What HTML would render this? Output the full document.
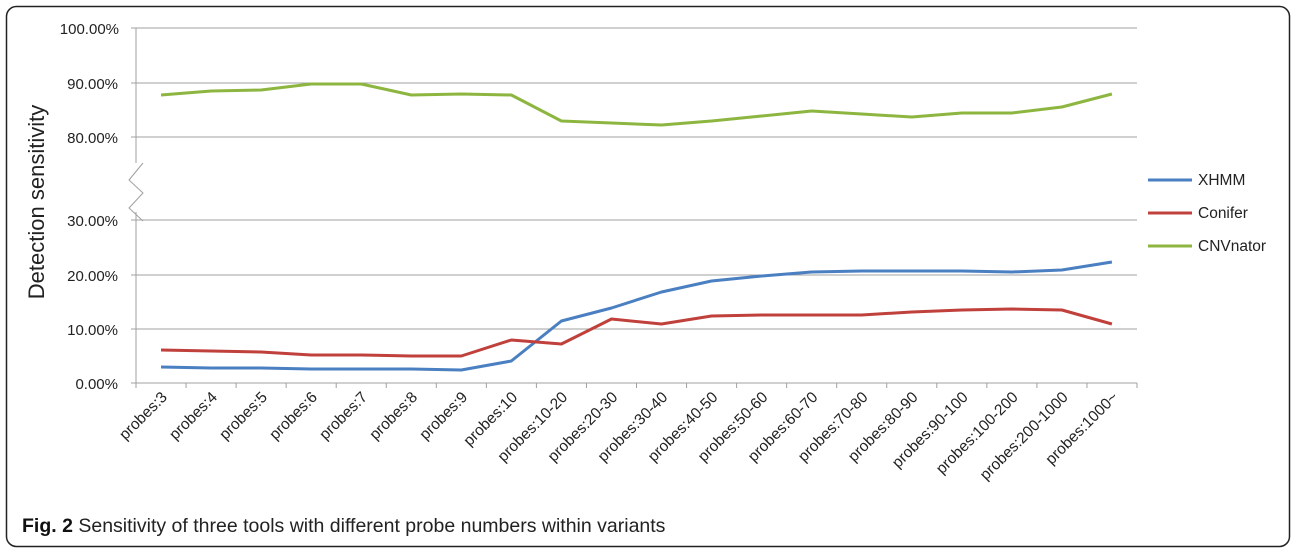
<!DOCTYPE html><html><head><style>body{margin:0;background:#fff}svg{display:block}</style></head><body>
<svg width="1296" height="552" xmlns="http://www.w3.org/2000/svg" font-family="Liberation Sans, DejaVu Sans, sans-serif">
<rect x="6.5" y="6.5" width="1283" height="540" rx="10" fill="#fff" stroke="#222" stroke-width="1.5"/>
<g stroke="#a0a0a0" stroke-width="1">
<line x1="131" y1="28" x2="1137" y2="28"/><line x1="131" y1="83" x2="1137" y2="83"/><line x1="131" y1="137" x2="1137" y2="137"/>
<line x1="131" y1="220" x2="1137" y2="220"/><line x1="131" y1="275" x2="1137" y2="275"/><line x1="131" y1="329" x2="1137" y2="329"/>
<line x1="131" y1="383" x2="1137" y2="383"/>
<line x1="136" y1="28" x2="136" y2="163"/><line x1="136" y1="212" x2="136" y2="383"/>
<polyline fill="none" points="143,163 129,180 143,193 129,208 143,221"/>
</g>
<g stroke="#a0a0a0" id="ticks"></g>
<g font-size="15" fill="#222" text-anchor="end">
<text x="119" y="34">100.00%</text><text x="118" y="89">90.00%</text><text x="118" y="143">80.00%</text>
<text x="118" y="226">30.00%</text><text x="118" y="281">20.00%</text><text x="118" y="335">10.00%</text><text x="118" y="389">0.00%</text>
</g>
<text transform="translate(44,202) rotate(-90)" font-size="22" text-anchor="middle" fill="#222">Detection sensitivity</text>
<g fill="none" stroke-width="3" stroke-linejoin="round">
<polyline id="g" stroke="#8db640"/><polyline id="b" stroke="#4a7fc1"/><polyline id="r" stroke="#c0403c"/>
</g>
<g id="lab" font-size="15.5" fill="#222" text-anchor="end"></g>
<line x1="1148" y1="180" x2="1192" y2="180" stroke="#4a7fc1" stroke-width="3"/>
<line x1="1148" y1="213" x2="1192" y2="213" stroke="#c0403c" stroke-width="3"/>
<line x1="1148" y1="246" x2="1192" y2="246" stroke="#8db640" stroke-width="3"/>
<g font-size="15.5" fill="#222"><text x="1198" y="185">XHMM</text><text x="1198" y="218">Conifer</text><text x="1198" y="251">CNVnator</text></g>
<text x="22" y="532" font-size="19.5" fill="#222"><tspan font-weight="bold" fill="#111">Fig. 2</tspan> Sensitivity of three tools with different probe numbers within variants</text>
</svg>
<script>
var g=[95,91,90,84,84,95,94,95,121,123,125,121,116,111,114,117,113,113,107,94],
b=[367,368,368,369,369,369,370,361,321,308,292,281,276,272,271,271,271,272,270,262],
r=[350,351,352,355,355,356,356,340,344,319,324,316,315,315,315,312,310,309,310,324],
L=["probes:3","probes:4","probes:5","probes:6","probes:7","probes:8","probes:9","probes:10","probes:10-20","probes:20-30","probes:30-40","probes:40-50","probes:50-60","probes:60-70","probes:70-80","probes:80-90","probes:90-100","probes:100-200","probes:200-1000","probes:1000~"];
function pts(a){return a.map((v,i)=>(161+50.05*i).toFixed(1)+","+v).join(" ")}
document.getElementById("g").setAttribute("points",pts(g));
document.getElementById("b").setAttribute("points",pts(b));
document.getElementById("r").setAttribute("points",pts(r));
var t="",l="";
for(var i=0;i<=20;i++){var x=136+50.05*i;t+='<line x1="'+x+'" y1="383" x2="'+x+'" y2="388"/>';}
for(var i=0;i<20;i++){var x=168+50.05*i;l+='<text transform="translate('+x+',398) rotate(-45)">'+L[i]+'</text>';}
document.getElementById("ticks").innerHTML=t;document.getElementById("lab").innerHTML=l;
</script>
</body></html>
